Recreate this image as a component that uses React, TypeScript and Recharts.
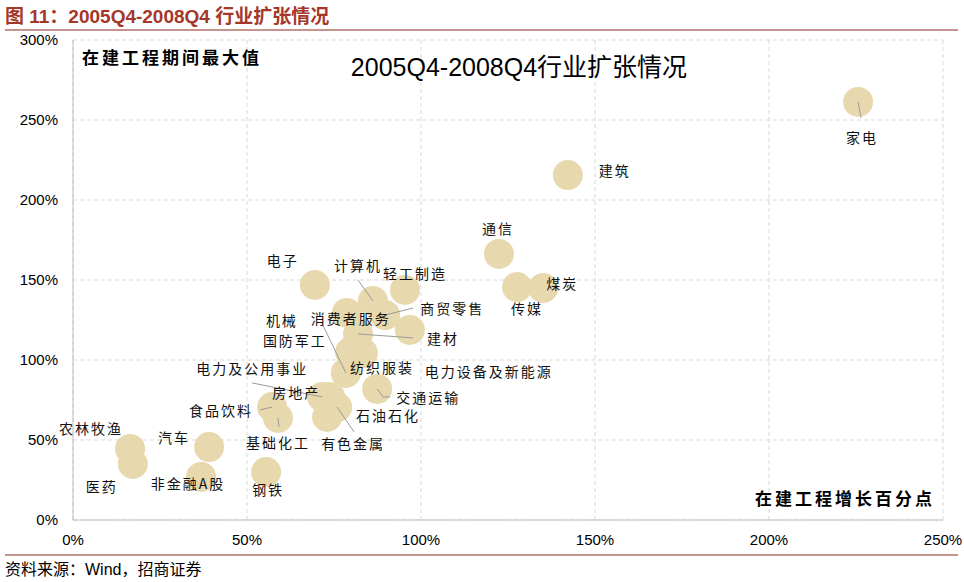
import { CartesianGrid, Scatter, ScatterChart, XAxis, YAxis } from 'recharts'

// 行业
const industries = [
  '家电', '建筑', '通信', '传媒', '煤炭', '电子', '计算机', '轻工制造', '商贸零售',
  '机械', '消费者服务', '国防军工', '建材', '纺织服装', '电力设备及新能源', '交通运输',
  '电力及公用事业', '房地产', '有色金属', '石油石化', '食品饮料', '基础化工',
  '农林牧渔', '医药', '汽车', '非金融A股', '钢铁',
]
// 在建工程增长百分点 (%)
const growth = [
  225.6, 142.2, 122.4, 127.6, 135.1, 69.5, 86.2, 95.4, 89.7,
  78.7, 78.4, 83.3, 81.9, 79.6, 96.8, 87.4,
  71.6, 73.9, 75.9, 73.0, 57.2, 58.9,
  16.4, 17.2, 39.1, 36.8, 55.5,
]
// 在建工程期间最大值 (%)
const peak = [
  261.3, 215.6, 166.3, 145.6, 145.0, 146.9, 136.9, 143.8, 128.1,
  129.4, 91.9, 104.4, 116.3, 105.0, 118.8, 81.9,
  76.9, 76.9, 70.6, 64.4, 70.6, 63.8,
  44.4, 35.0, 45.6, 26.9, 30.0,
]
const xTicks = [0, 50, 100, 150, 200, 250]
const yTicks = [0, 50, 100, 150, 200, 250, 300]

const data = industries.map((name, i) => ({ name, x: growth[i], y: peak[i] }))

// label placement relative to the bubble (px), with optional leader line
const labelPos: Record<string, { dx: number; dy: number; line?: number[][] }> = {
  家电: { dx: 4, dy: 35, line: [[3, 16]] },
  建筑: { dx: 47, dy: -5 },
  通信: { dx: -1, dy: -26 },
  传媒: { dx: 10, dy: 21 },
  煤炭: { dx: 19, dy: -5 },
  电子: { dx: -32, dy: -25 },
  计算机: { dx: -15, dy: -36, line: [[-15, -21]] },
  轻工制造: { dx: 10, dy: -17 },
  商贸零售: { dx: 67, dy: -7, line: [[28, -7]] },
  机械: { dx: -65, dy: 7 },
  消费者服务: { dx: 5, dy: -55, line: [[-24, -50]] },
  国防军工: { dx: -68, dy: -13 },
  建材: { dx: 85, dy: 4, line: [[55, 4]] },
  纺织服装: { dx: 32, dy: 15 },
  电力设备及新能源: { dx: 79, dy: 41 },
  交通运输: { dx: 51, dy: 8, line: [[6, 8], [13, 8]] },
  电力及公用事业: { dx: -70, dy: -29, line: [[-70, -14]] },
  房地产: { dx: -34, dy: -5 },
  有色金属: { dx: 16, dy: 36, line: [[17, 25]] },
  石油石化: { dx: 61, dy: -2 },
  食品饮料: { dx: -51, dy: 3, line: [[-12, 3]] },
  基础化工: { dx: 0, dy: 24, line: [[1, 9]] },
  农林牧渔: { dx: -39, dy: -21 },
  医药: { dx: -31, dy: 22 },
  汽车: { dx: -35, dy: -10 },
  非金融A股: { dx: -13, dy: 6 },
  钢铁: { dx: 2, dy: 17 },
}

const cjk = "'Noto Sans CJK SC', sans-serif"
const latin = "'Liberation Sans', 'Noto Sans CJK SC', sans-serif"

function Bubble(props: any) {
  return <circle cx={props.cx} cy={props.cy} r={15} fill="#E8D8AE" />
}

function PointLabel(props: any) {
  const { cx, cy, payload } = props
  const p = labelPos[payload.name]
  if (!p) return null
  const pts = p.line ? [[0, 0], ...p.line].map(([a, b]) => `${cx + a},${cy + b}`).join(' ') : null
  return (
    <g>
      {pts && <polyline points={pts} fill="none" stroke="#9a9a9a" strokeWidth={1} />}
      <text
        x={cx + p.dx}
        y={cy + p.dy}
        textAnchor="middle"
        dominantBaseline="central"
        fontFamily={cjk}
        fontSize={14}
        letterSpacing={2}
        fill="#111"
      >
        {payload.name}
      </text>
    </g>
  )
}

export default function App() {
  return (
    <div style={{ position: 'absolute', left: 0, top: 0, width: 964, height: 582, background: '#fff' }}>
      <ScatterChart width={964} height={582} margin={{ top: 40, right: 21, bottom: 32, left: 0 }}>
        <CartesianGrid strokeDasharray="4 3" stroke="#d9d9d9" />
        <XAxis
          type="number"
          dataKey="x"
          domain={[0, 250]}
          ticks={xTicks}
          height={30}
          tickLine={false}
          tickMargin={8}
          axisLine={{ stroke: '#bfbfbf' }}
          tick={{ fill: '#000', fontSize: 15, fontFamily: latin }}
          tickFormatter={(v) => `${v}%`}
        />
        <YAxis
          type="number"
          dataKey="y"
          domain={[0, 300]}
          ticks={yTicks}
          width={73}
          tickLine={false}
          tickMargin={9}
          axisLine={{ stroke: '#bfbfbf' }}
          tick={{ fill: '#000', fontSize: 15, fontFamily: latin }}
          tickFormatter={(v) => `${v}%`}
        />
        <Scatter data={data} shape={Bubble} isAnimationActive={false} />
        <Scatter data={data} shape={PointLabel} isAnimationActive={false} />
      </ScatterChart>
      <svg width={964} height={582} style={{ position: 'absolute', left: 0, top: 0, pointerEvents: 'none' }}>
        <text x={5} y={16} dominantBaseline="central" fontFamily={latin} fontWeight="bold" fontSize={19} fill="#a5372a">
          图 11：2005Q4-2008Q4 行业扩张情况
        </text>
        <line x1={5} x2={958} y1={30} y2={30} stroke="#8e2b20" strokeWidth={1.2} />
        <text x={82} y={56} dominantBaseline="central" fontFamily={cjk} fontWeight="bold" fontSize={17} letterSpacing={3} fill="#000">
          在建工程期间最大值
        </text>
        <text x={519} y={67} textAnchor="middle" dominantBaseline="central" fontFamily={latin} fontSize={25} fill="#000">
          2005Q4-2008Q4行业扩张情况
        </text>
        <text x={755} y={497} dominantBaseline="central" fontFamily={cjk} fontWeight="bold" fontSize={17} letterSpacing={3} fill="#000">
          在建工程增长百分点
        </text>
        <line x1={5} x2={958} y1={555} y2={555} stroke="#8e2b20" strokeWidth={1.2} />
        <text x={5} y={569} dominantBaseline="central" fontFamily={latin} fontSize={16} fill="#000">
          资料来源：Wind，招商证券
        </text>
      </svg>
    </div>
  )
}
